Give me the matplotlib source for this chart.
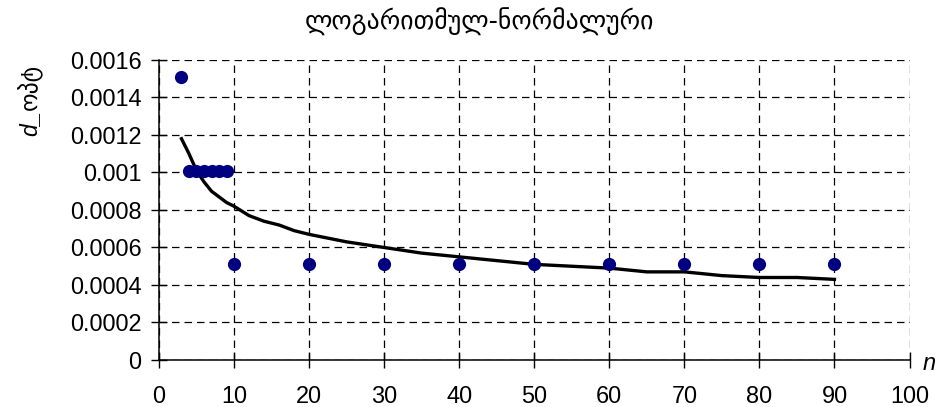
import matplotlib
matplotlib.use('Agg')
import matplotlib.pyplot as plt
import numpy as np

# measured points
n_pts = [3, 4, 5, 6, 7, 8, 9, 10, 20, 30, 40, 50, 60, 70, 80, 90]
d_pts = [0.00151, 0.00101, 0.00101, 0.00101, 0.00101, 0.00101, 0.00101,
         0.00051, 0.00051, 0.00051, 0.00051, 0.00051, 0.00051, 0.00051,
         0.00051, 0.00051]

# log-normal fit curve
n_fit = [3, 4, 5, 6, 7, 8, 9, 10, 12, 14, 16, 18, 20, 25, 30, 35, 40, 45,
         50, 55, 60, 65, 70, 75, 80, 85, 90]
d_fit = [0.00118, 0.00110, 0.00101, 0.00095, 0.00090, 0.00087, 0.00084,
         0.00082, 0.00077, 0.00074, 0.00072, 0.00069, 0.00067, 0.00063,
         0.00060, 0.00057, 0.00055, 0.00053, 0.00051, 0.00050, 0.00049,
         0.00047, 0.00047, 0.00045, 0.00044, 0.00044, 0.00043]

xticks = np.arange(0, 101, 10)
yticks = [0, 0.0002, 0.0004, 0.0006, 0.0008, 0.001, 0.0012, 0.0014, 0.0016]
ytick_labels = ['0', '0.0002', '0.0004', '0.0006', '0.0008', '0.001',
                '0.0012', '0.0014', '0.0016']

title = 'ლოგარითმულ-ნორმალური'
ylab_var = 'd_'
ylab_sub = 'ოპტ'
xlab = 'n'

fonts = ['Liberation Sans', 'DejaVu Sans']
plt.rcParams['font.family'] = fonts

fig = plt.figure(figsize=(9.39, 4.07), dpi=100)
ax = fig.add_axes([0.1693, 0.1155, 0.7993, 0.7371])

ax.plot(n_fit, d_fit, color='black', lw=2.4, zorder=3)
ax.plot(n_pts, d_pts, 'o', color='#000080', markersize=9.5, zorder=4,
        markeredgewidth=0)

ax.set_xlim(0, 100)
ax.set_ylim(0, 0.0016)
ax.set_xticks(xticks)
ax.set_yticks(yticks)
ax.set_yticklabels(ytick_labels)
ax.tick_params(direction='inout', length=11.5, width=1, labelsize=16.9,
               colors='black', pad=7)
ax.tick_params(axis='x', pad=12)
ax.grid(True, color='black', linestyle=(0, (6, 4)), linewidth=0.9)
ax.set_axisbelow(True)
for s in ['top', 'right']:
    ax.spines[s].set_visible(False)
for s in ['left', 'bottom']:
    ax.spines[s].set_linewidth(1.1)
    ax.spines[s].set_zorder(5)

fig.text(0.511, 0.945, title, ha='center', va='center', fontsize=18.5,
         family=['DejaVu Sans'])
t1 = fig.text(0.032, 0.667, ylab_var, ha='center', va='bottom', rotation=90,
              fontsize=16.5, style='italic')
ax.annotate(ylab_sub, xy=(0.5, 1.0), xycoords=t1, ha='center', va='bottom',
            rotation=90, fontsize=17, family=['DejaVu Sans'],
            annotation_clip=False)
fig.text(0.99, 0.108, xlab, ha='center', va='center', fontsize=17,
         style='italic')

fig.savefig('out.png', dpi=100)
